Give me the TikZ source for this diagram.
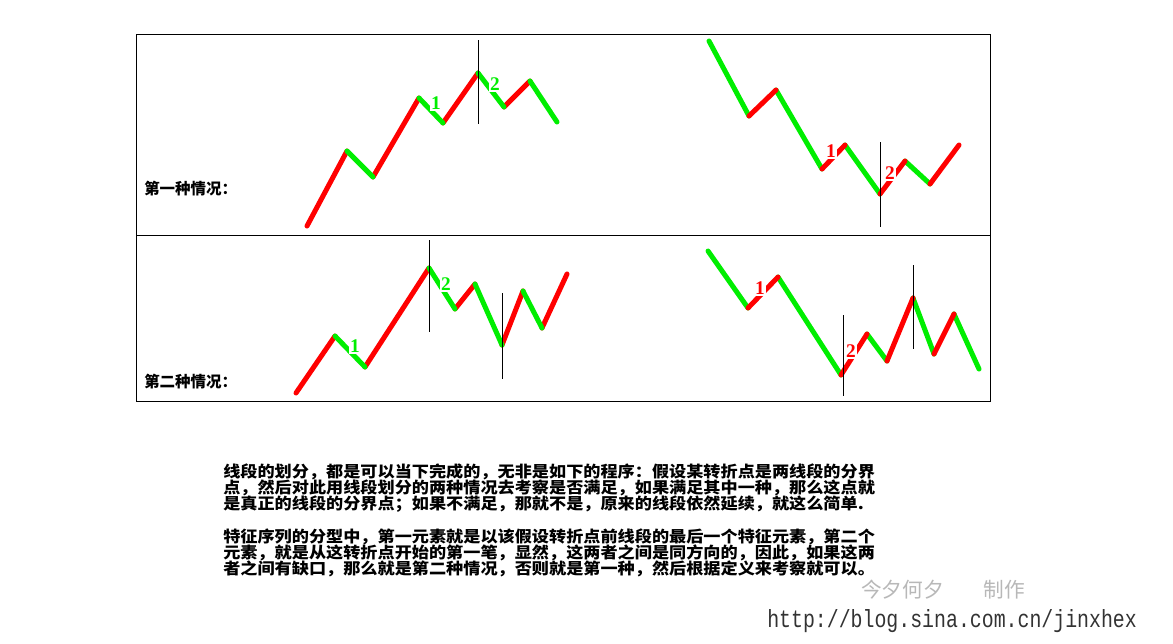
\documentclass[tikz,border=0pt]{standalone}
\usepackage{fontspec}
\usepackage{graphicx}
\newfontfamily\cjk{Noto Sans CJK SC}
\newfontfamily\digitfont{Liberation Serif}
\newfontfamily\urlfont{Liberation Mono}
\definecolor{segred}{RGB}{255,0,0}
\definecolor{seggreen}{RGB}{0,238,0}
\tikzset{
  upseg/.style={draw=segred, line width=3.75pt, line cap=round, line join=round},
  downseg/.style={draw=seggreen, line width=3.75pt, line cap=round, line join=round},
  marker/.style={draw=black, line width=0.75pt},
  numlab/.style={fill=white, inner sep=1pt, font=\digitfont\bfseries\fontsize{14.5pt}{14.5pt}\selectfont},
  caselab/.style={anchor=west, inner sep=0pt, font=\cjk\bfseries\fontsize{11.6pt}{12pt}\selectfont},
  bodyline/.style={anchor=west, inner sep=0pt, font=\cjk\bfseries\fontsize{11.8pt}{12pt}\selectfont},
}
\newcommand{\wide}[1]{\scalebox{1.09}[1]{#1}}
\begin{document}
\begin{tikzpicture}[x=0.75pt,y=-0.75pt]
\useasboundingbox (0,0) rectangle (1173,643);
\fill[white] (0,0) rectangle (1173,643);
% frame
\draw[line width=0.75pt] (136.5,34.5) rectangle (990,401);
\draw[line width=0.75pt] (136.5,235.5) -- (990,235.5);

% ---------- top left ----------
\coordinate (a0) at (307,226); \coordinate (a1) at (347,151);
\coordinate (a2) at (373,177); \coordinate (a3) at (419,98);
\coordinate (a4) at (443,123); \coordinate (a5) at (478,73);
\coordinate (a6) at (504,107); \coordinate (a7) at (530,81);
\coordinate (a8) at (557,122);
\draw[upseg] (a0) -- (a1); \draw[upseg] (a2) -- (a3);
\draw[upseg] (a4) -- (a5); \draw[upseg] (a6) -- (a7);
\draw[downseg] (a1) -- (a2); \draw[downseg] (a3) -- (a4);
\draw[downseg] (a5) -- (a6); \draw[downseg] (a7) -- (a8);
\node[numlab, text=seggreen] (tl1) at (436,103) {1};
\node[numlab, text=seggreen] (tl2) at (495,84) {2};
\coordinate (tlv1) at (478,40); \coordinate (tlv2) at (478,124);
\draw[marker] (tlv1) -- (tlv2);
\node[caselab] (case1) at (144,189) {第一种情况：};

% ---------- top right ----------
\coordinate (b0) at (709,41); \coordinate (b1) at (749,116);
\coordinate (b2) at (776,90); \coordinate (b3) at (822,169);
\coordinate (b4) at (845,145); \coordinate (b5) at (880,194);
\coordinate (b6) at (905,161); \coordinate (b7) at (930,184);
\coordinate (b8) at (959,145);
\draw[downseg] (b0) -- (b1); \draw[downseg] (b2) -- (b3);
\draw[downseg] (b4) -- (b5); \draw[downseg] (b6) -- (b7);
\draw[upseg] (b1) -- (b2); \draw[upseg] (b3) -- (b4);
\draw[upseg] (b5) -- (b6); \draw[upseg] (b7) -- (b8);
\node[numlab, text=segred] (tr1) at (831,151) {1};
\node[numlab, text=segred] (tr2) at (890,173) {2};
\coordinate (trv1) at (880,142); \coordinate (trv2) at (880,227);
\draw[marker] (trv1) -- (trv2);

% ---------- bottom left ----------
\coordinate (c0) at (296,393); \coordinate (c1) at (335,336);
\coordinate (c2) at (365,367); \coordinate (c3) at (429,268);
\coordinate (c4) at (455,309); \coordinate (c5) at (475,284);
\coordinate (c6) at (502,345); \coordinate (c7) at (523,291);
\coordinate (c8) at (542,328); \coordinate (c9) at (567,274);
\draw[upseg] (c0) -- (c1); \draw[upseg] (c2) -- (c3);
\draw[upseg] (c4) -- (c5); \draw[upseg] (c6) -- (c7);
\draw[upseg] (c8) -- (c9);
\draw[downseg] (c1) -- (c2); \draw[downseg] (c3) -- (c4);
\draw[downseg] (c5) -- (c6); \draw[downseg] (c7) -- (c8);
\node[numlab, text=seggreen] (bl1) at (355,346) {1};
\node[numlab, text=seggreen] (bl2) at (446,284) {2};
\coordinate (blv1) at (429,240); \coordinate (blv2) at (429,332);
\coordinate (blw1) at (502,293); \coordinate (blw2) at (502,379);
\draw[marker] (blv1) -- (blv2);
\draw[marker] (blw1) -- (blw2);
\node[caselab] (case2) at (144,382) {第二种情况：};

% ---------- bottom right ----------
\coordinate (d0) at (708,251); \coordinate (d1) at (748,308);
\coordinate (d2) at (778,277); \coordinate (d3) at (841,375);
\coordinate (d4) at (867,334); \coordinate (d5) at (887,361);
\coordinate (d6) at (913,298); \coordinate (d7) at (934,354);
\coordinate (d8) at (954,314); \coordinate (d9) at (979,369);
\draw[downseg] (d0) -- (d1); \draw[downseg] (d2) -- (d3);
\draw[downseg] (d4) -- (d5); \draw[downseg] (d6) -- (d7);
\draw[downseg] (d8) -- (d9);
\draw[upseg] (d1) -- (d2); \draw[upseg] (d3) -- (d4);
\draw[upseg] (d5) -- (d6); \draw[upseg] (d7) -- (d8);
\node[numlab, text=segred] (br1) at (760,288) {1};
\node[numlab, text=segred] (br2) at (851,351) {2};
\coordinate (brv1) at (843,315); \coordinate (brv2) at (843,396);
\coordinate (brw1) at (913,265); \coordinate (brw2) at (913,349);
\draw[marker] (brv1) -- (brv2);
\draw[marker] (brw1) -- (brw2);

% ---------- body text ----------
\node[bodyline] (p1l1) at (223,472) {\wide{线段的划分，都是可以当下完成的，无非是如下的程序：假设某转折点是两线段的分界}};
\node[bodyline] (p1l2) at (223,488) {\wide{点，然后对此用线段划分的两种情况去考察是否满足，如果满足其中一种，那么这点就}};
\node[bodyline] (p1l3) at (223,504) {\wide{是真正的线段的分界点；如果不满足，那就不是，原来的线段依然延续，就这么简单.}};
\node[bodyline] (p2l1) at (223,537) {\wide{特征序列的分型中，第一元素就是以该假设转折点前线段的最后一个特征元素，第二个}};
\node[bodyline] (p2l2) at (223,553) {\wide{元素，就是从这转折点开始的第一笔，显然，这两者之间是同方向的，因此，如果这两}};
\node[bodyline] (p2l3) at (223,569) {\wide{者之间有缺口，那么就是第二种情况，否则就是第一种，然后根据定义来考察就可以。}};

% ---------- watermark & url ----------
\node[anchor=west, inner sep=0pt, text=black!28, font=\cjk\fontsize{15.5pt}{15.5pt}\selectfont] (mark) at (861,590) {今夕何夕\hspace{30pt}制作};
\node[anchor=west, inner sep=0pt, text=black!80, font=\urlfont\fontsize{14.9pt}{15pt}\selectfont] (url) at (767,621) {\scalebox{1}[1.25]{http://blog.sina.com.cn/jinxhex}};
\end{tikzpicture}
\end{document}
